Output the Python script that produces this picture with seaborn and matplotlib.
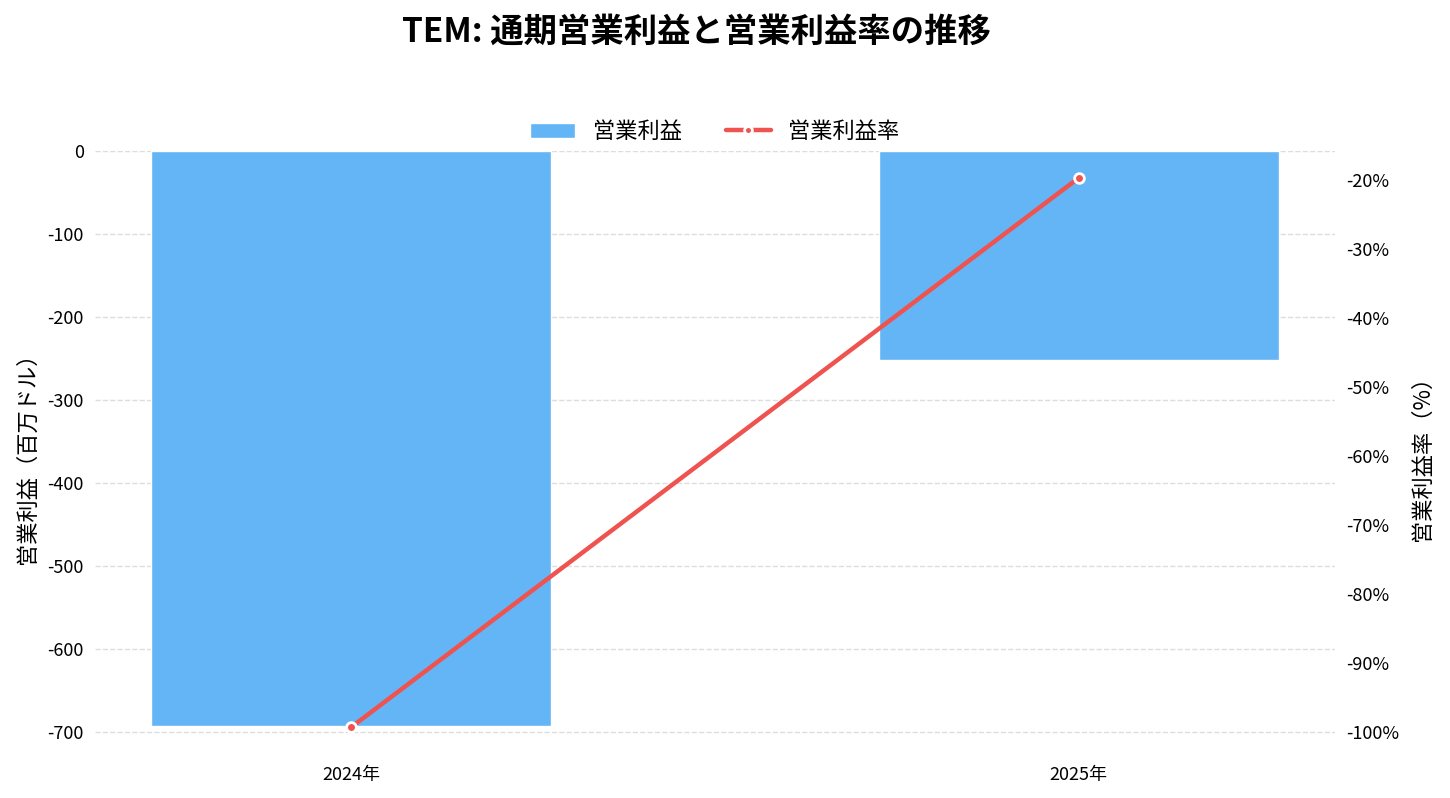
import numpy as np
import pandas as pd
import matplotlib
matplotlib.use('Agg')
import matplotlib.pyplot as plt
import matplotlib.ticker as mticker
import seaborn as sns

# Data
years = ['2024年', '2025年']
op_income = [-692, -252]          # 営業利益 (百万ドル)
op_margin = [-99.3, -19.7]        # 営業利益率 (%)

sns.set_style('white')
plt.rcParams['font.family'] = ['Noto Sans CJK JP', 'DejaVu Sans']
plt.rcParams['axes.unicode_minus'] = False
plt.rcParams['text.color'] = 'black'
plt.rcParams['axes.labelcolor'] = 'black'
plt.rcParams['xtick.color'] = 'black'
plt.rcParams['ytick.color'] = 'black'

df = pd.DataFrame({'year': years, 'income': op_income, 'margin': op_margin})

fig = plt.figure(figsize=(14.5, 7.98), dpi=100)
ax = fig.add_axes([0.0655, 0.0545, 0.8552, 0.7569])

sns.barplot(data=df, x='year', y='income', color='#64B5F6', saturation=1,
            width=0.55, ax=ax, label='営業利益', zorder=2)
ax.set_xlim(-0.3525, 1.3525)
ax.set_ylim(min(op_income) * 1.05, 0)
ax.yaxis.grid(True, linestyle='--', color='#dddddd', linewidth=1, zorder=0)
ax.set_axisbelow(True)
ax.set_xlabel('')
ax.set_ylabel('営業利益（百万ドル）', fontsize=16, labelpad=6)
ax.tick_params(axis='both', length=0, labelsize=13, pad=8)
ax.yaxis.set_major_formatter(mticker.FuncFormatter(lambda v, p: f'{v:.0f}'))

ax2 = ax.twinx()
x_pos = np.arange(len(years))
ax2.plot(x_pos, df['margin'], color='#EF5350', linewidth=3.2, marker='o',
         markersize=7, markerfacecolor='#EF5350', markeredgecolor='white',
         markeredgewidth=2, label='営業利益率', zorder=3)
ax2.set_ylabel('営業利益率（%）', fontsize=16, labelpad=8)
ax2.tick_params(axis='y', length=0, labelsize=13, pad=8)
ax2.yaxis.set_major_locator(mticker.MultipleLocator(10))
ax2.yaxis.set_major_formatter(mticker.FuncFormatter(lambda v, p: f'{v:.0f}%'))
ax2.set_xlim(-0.3525, 1.3525)

for a in (ax, ax2):
    for s in a.spines.values():
        s.set_visible(False)

h1, l1 = ax.get_legend_handles_labels()
h2, l2 = ax2.get_legend_handles_labels()
ax.legend(h1 + h2, l1 + l2, loc='lower center', bbox_to_anchor=(0.5, 0.979),
          ncol=2, frameon=False, fontsize=16, columnspacing=2.0,
          markerscale=0.8)

fig.suptitle('TEM: 通期営業利益と営業利益率の推移', fontsize=24,
             fontweight='bold', x=0.48, y=0.98)

fig.savefig('out.png', dpi=100)
